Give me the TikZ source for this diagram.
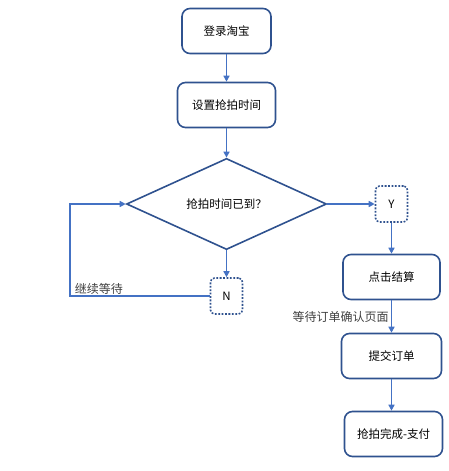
\documentclass[tikz,border=0pt]{standalone}
\usepackage{fontspec}
\setmainfont{Noto Sans CJK SC}
\usepackage{tikz}
\usetikzlibrary{positioning,shapes.geometric,arrows.meta}

\definecolor{boxblue}{HTML}{2F528F}
\definecolor{lineblue}{HTML}{4472C4}

\tikzset{
  stepbox/.style={draw=boxblue, line width=1.6pt, rounded corners=8pt,
    minimum height=45pt, font=\fontsize{11.5}{13}\selectfont},
  answer/.style={draw=boxblue, line width=1.6pt, rounded corners=4pt,
    dash pattern=on 1.8pt off 1.6pt, minimum width=32pt, minimum height=36pt,
    inner sep=0pt, font=\fontsize{11.5}{13}\selectfont},
  note/.style={text=black!75, font=\fontsize{12}{14}\selectfont, inner sep=2pt}
}

\begin{document}
\begin{tikzpicture}[x=1pt,y=-1pt,on grid,
    >={Triangle[length=6pt,width=6pt]},
    every edge/.style={draw=lineblue, line width=1.9pt}]
   \useasboundingbox (0,0) rectangle (449,471);

   \node[stepbox, minimum width=89pt] (login) at (226.5,31) {登录淘宝};
   \node[stepbox, minimum width=98pt] (settime) [below=74pt of login] {设置抢拍时间};
   \node[diamond, draw=boxblue, line width=1.6pt, minimum width=200pt,
         minimum height=84pt, inner sep=0pt,
         font=\fontsize{11.5}{13}\selectfont] (check) [below=99pt of settime] {抢拍时间已到？};
   \node[answer] (no)  [below=92pt of check] {N};
   \node[answer] (yes) [right=165pt of check] {Y};
   \node[stepbox, minimum width=97pt] (settle) [below=73pt of yes] {点击结算};
   \node[stepbox, minimum width=100pt] (submit) [below=79pt of settle] {提交订单};
   \node[stepbox, minimum width=98pt] (pay) [below=78pt of submit, xshift=2pt] {抢拍完成-支付};

    \path[->]
    (login)   edge (settime)
    (settime) edge (check)
    (check)   edge (no)
              edge (yes)
    (yes)     edge (settle)
    (settle)  edge node[note, left] {等待订单确认页面} (submit)
    (submit)  edge (pay.north -| submit);

   % wait loop back to the check
   \draw[->, draw=lineblue, line width=1.9pt]
     (no.west) -- ++(-140pt,0) coordinate (turn) |- (check.west);
   \node[note, anchor=south west] at ([xshift=3pt,yshift=-1pt]turn) {继续等待};
\end{tikzpicture}
\end{document}
